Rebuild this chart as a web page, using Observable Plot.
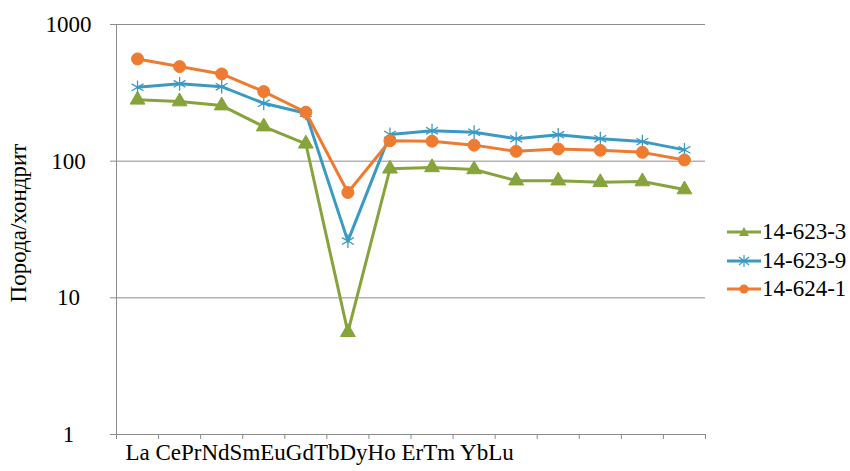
<!DOCTYPE html>
<html>
<head>
<meta charset="utf-8">
<script src="https://cdn.jsdelivr.net/npm/d3@7"></script>
<script src="https://cdn.jsdelivr.net/npm/@observablehq/plot@0.6"></script>
<style>
  html, body { margin: 0; padding: 0; background: #fff; }
  #wrap { position: relative; width: 850px; height: 471px; }
  #legend { position: absolute; left: 727px; top: 218px; font-family: "Liberation Serif", "Times New Roman", serif; font-size: 23px; color: #000; }
  .row { display: flex; align-items: center; height: 28.5px; white-space: nowrap; }
  .row svg { margin-right: 1px; }
</style>
</head>
<body>
<div id="wrap"></div>
<script>
const elements = ["La","Ce","Pr","Nd","Sm","Eu","Gd","Tb","Dy","Ho","Er","Tm","Yb","Lu"];
const xLabelText = "La CePrNdSmEuGdTbDyHo ErTm YbLu";
const seriesNames = ["14-623-3", "14-623-9", "14-624-1"];
const s1 = [281, 273, 255, 179, 134, 5.6, 88, 90, 87, 72, 72, 70, 71, 62];
const s2 = [347, 368, 351, 265, 224, 26, 157, 167, 163, 146, 156, 146, 139, 121];
const s3 = [560, 492, 435, 323, 228, 59, 141, 140, 131, 118, 123, 120, 116, 102];
const yTicks = [1, 10, 100, 1000];
const colors = ["#86A33C", "#3A9AC4", "#EE7B30"];

const allSeries = [s1, s2, s3];
const data = allSeries.flatMap((vals, k) => vals.map((v, i) => ({series: seriesNames[k], el: elements[i], i: i + 0.5, v})));

const font = '"Liberation Serif", "Times New Roman", serif';

const chart = Plot.plot({
  width: 850,
  height: 471,
  marginLeft: 116,
  marginRight: 145,
  marginTop: 24,
  marginBottom: 37,
  style: {fontFamily: font, fontSize: "23px", background: "white", color: "#000"},
  x: {type: "linear", domain: [0, elements.length]},
  y: {type: "log", domain: [1, 1000]},
  marks: [
    Plot.gridY(yTicks, {stroke: "#8c8c8c", strokeOpacity: 1, strokeWidth: 1}),
    Plot.axisY(yTicks, {tickFormat: d => String(d), tickSize: 6, tickPadding: 42, textAnchor: "middle", stroke: "#8c8c8c", label: null, fill: "#000"}),
    Plot.ruleX([0], {stroke: "#8c8c8c", strokeWidth: 1}),
    Plot.axisX(d3.range(elements.length + 1), {tickFormat: () => "", tickSize: 5, stroke: "#8c8c8c", label: null}),
    Plot.text([xLabelText], {frameAnchor: "bottom-left", textAnchor: "start", dx: 9, dy: 25, fontSize: 23, fill: "#000"}),
    ...seriesNames.map((name, k) => Plot.line(data.filter(d => d.series === name), {x: "i", y: "v", stroke: colors[k], strokeWidth: 3})),
    Plot.dot(data.filter(d => d.series === seriesNames[0]), {x: "i", y: "v", symbol: "triangle", r: 5.5, fill: colors[0], stroke: colors[0], strokeWidth: 1}),
    Plot.dot(data.filter(d => d.series === seriesNames[1]), {x: "i", y: "v", symbol: "asterisk", r: 6.5, stroke: colors[1], strokeWidth: 1.3}),
    Plot.dot(data.filter(d => d.series === seriesNames[2]), {x: "i", y: "v", symbol: "circle", r: 6, fill: colors[2], stroke: colors[2], strokeWidth: 1})
  ]
});

const wrap = document.getElementById("wrap");
wrap.appendChild(chart);

// Y-axis title (rotated)
const svgNS = "http://www.w3.org/2000/svg";
const title = document.createElementNS(svgNS, "text");
title.setAttribute("transform", "translate(26,223) rotate(-90)");
title.setAttribute("text-anchor", "middle");
title.setAttribute("font-family", font);
title.setAttribute("font-size", "23");
title.setAttribute("fill", "#000");
title.textContent = "Порода/хондрит";
chart.appendChild(title);

// Legend
const legend = document.createElement("div");
legend.id = "legend";
seriesNames.forEach((name, k) => {
  const row = document.createElement("div");
  row.className = "row";
  let marker = "";
  if (k === 0) marker = `<path d="M17,5 L22,14 L12,14 Z" fill="${colors[k]}"/>`;
  if (k === 1) marker = `<g stroke="${colors[k]}" stroke-width="1.2"><line x1="17" y1="4" x2="17" y2="16"/><line x1="12" y1="6" x2="22" y2="14"/><line x1="12" y1="14" x2="22" y2="6"/></g>`;
  if (k === 2) marker = `<circle cx="17" cy="10" r="4.5" fill="${colors[k]}"/>`;
  row.innerHTML = `<svg width="34" height="20"><line x1="0" y1="10" x2="34" y2="10" stroke="${colors[k]}" stroke-width="3"/>${marker}</svg><span>${name}</span>`;
  legend.appendChild(row);
});
wrap.appendChild(legend);
</script>
</body>
</html>
